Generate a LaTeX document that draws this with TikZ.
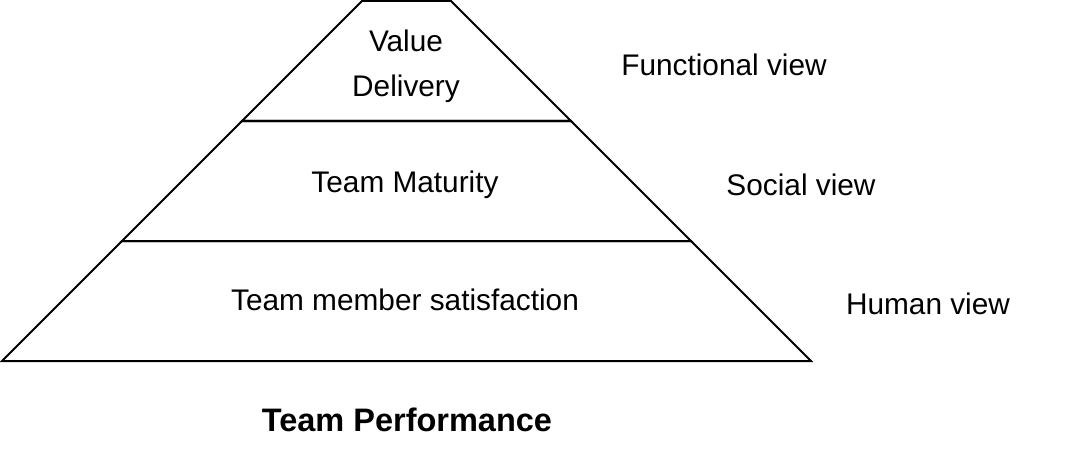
\documentclass[tikz,border=0pt]{standalone}
\usepackage{fontspec}
\setmainfont{Liberation Sans}
\begin{document}
\begin{tikzpicture}[x=1pt,y=-1pt,
  layer/.style={draw=black,line width=2pt,line join=miter},
  lbl/.style={font=\fontsize{29.8}{45}\selectfont,inner sep=0pt,anchor=base},
  title/.style={font=\fontsize{32.5}{40}\selectfont\bfseries,inner sep=0pt,anchor=base}]
  \useasboundingbox (0,0) rectangle (1083,468);
  % corner points of the three stacked layers
  \coordinate (t1) at (362,1);   \coordinate (t2) at (451,1);
  \coordinate (m1) at (242,121); \coordinate (m2) at (571,121);
  \coordinate (n1) at (122,241); \coordinate (n2) at (691,241);
  \coordinate (b1) at (2,361);   \coordinate (b2) at (811,361);
  % pyramid layers
  \draw[layer] (t1) -- (t2) -- (m2) -- (m1) -- cycle;
  \draw[layer] (m1) -- (m2) -- (n2) -- (n1) -- cycle;
  \draw[layer] (n1) -- (n2) -- (b2) -- (b1) -- cycle;
  % layer labels
  \node[font=\fontsize{29.8}{45}\selectfont,inner sep=0pt,align=center] (vd) at (406,66.5) {Value\\Delivery};
  \node[lbl] (tm) at (405,192) {Team Maturity};
  \node[lbl] (ts) at (405,310) {Team member satisfaction};
  % view labels
  \node[lbl] (fv) at (724,76) {Functional view};
  \node[lbl] (sv) at (801,195) {Social view};
  \node[lbl] (hv) at (928,314) {Human view};
  % caption
  \node[title] (tp) at (407,431) {Team Performance};
\end{tikzpicture}
\end{document}
